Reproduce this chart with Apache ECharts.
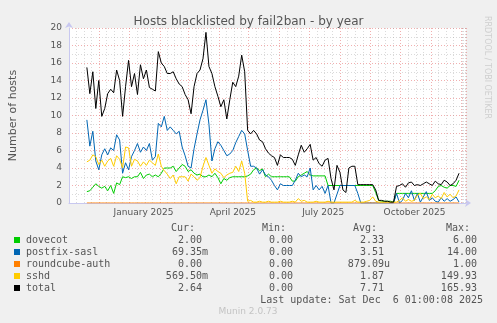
<!DOCTYPE html>
<html>
<head>
<meta charset="utf-8">
<script src="https://cdn.jsdelivr.net/npm/echarts@6/dist/echarts.min.js"></script>
<style>
  html, body { margin: 0; padding: 0; background: #f0f0f0; }
  #main { width: 497px; height: 323px; }
</style>
</head>
<body>
<div id="main"></div>
<script>
// one point every 3 days, first point 2024-11-19
const startDay = [2024, 10, 19]
const stepDays = 3

const dovecot = [1.3, 1.4, 1.8, 2.2, 1.9, 1.7, 1.9, 1.4, 2.0, 1.1, 2.3, 2.1, 3.0, 2.9, 3.0, 2.8, 3.0, 3.0, 3.5, 2.8,
  3.2, 3.3, 3.0, 3.2, 3.0, 3.4, 4.0, 4.0, 4.0, 4.2, 3.6, 4.0, 4.4, 4.2, 3.6, 3.8, 3.4, 3.2, 3.3, 3.0,
  3.0, 3.2, 3.0, 3.4, 2.9, 2.2, 2.8, 2.6, 2.9, 3.0, 3.0, 3.0, 3.0, 3.0, 3.1, 3.3, 3.8, 4.0, 3.7, 3.9,
  3.0, 3.3, 3.0, 3.0, 3.0, 3.0, 3.0, 3.0, 3.0, 2.5, 2.5, 3.0, 3.2, 3.4, 3.6, 3.2, 3.1, 3.1, 3.1, 3.1,
  3.1, 2.0, 2.0, 2.0, 2.0, 2.0, 2.0, 2.0, 2.0, 2.0, 2.0, 2.0, 2.0, 2.0, 2.0, 2.0, 2.0, 1.2, 0.3, 0.2,
  0.2, 0.2, 0.2, 0.1, 1.1, 1.1, 1.1, 1.1, 1.1, 1.1, 1.1, 1.1, 1.1, 1.1, 1.1, 1.1, 1.1, 1.4, 1.9, 2.0,
  1.8, 1.7, 2.0, 2.0, 1.9, 2.6]
const postfixSasl = [9.5, 6.5, 8.2, 4.8, 3.8, 5.5, 6.2, 5.5, 6.3, 6.0, 7.8, 7.2, 3.4, 4.6, 3.8, 5.3, 6.0, 6.8, 5.8, 6.4,
  6.0, 6.8, 4.9, 5.3, 9.1, 8.7, 9.9, 8.3, 8.7, 8.3, 7.9, 8.2, 6.4, 5.4, 4.2, 4.0, 6.2, 7.9, 9.5, 10.6,
  11.8, 9.0, 4.8, 6.2, 7.0, 6.6, 6.0, 5.4, 5.6, 6.0, 6.9, 7.6, 8.3, 7.9, 6.0, 4.2, 4.2, 4.0, 3.3, 3.8,
  3.2, 3.0, 2.6, 2.0, 1.5, 2.2, 2.0, 2.0, 2.0, 2.0, 2.6, 3.4, 3.0, 3.2, 3.0, 4.0, 1.5, 2.0, 1.5, 1.9,
  1.1, 2.0, 0.0, 0.0, 1.0, 2.0, 2.0, 2.0, 2.0, 2.0, 2.0, 1.1, 0.0, 0.0, 0.0, 0.0, 0.0, 0.0, 0.0, 0.0,
  0.0, 0.0, 0.0, 0.0, 1.1, 0.0, 0.3, 1.1, 0.6, 1.4, 0.3, 1.1, 0.1, 0.7, 1.3, 0.3, 0.6, 0.2, 0.1, 0.6,
  0.2, 0.5, 0.2, 0.4, 0.7, 0.1]
const roundcubeAuth = [0, 0, 0, 0, 0, 0, 0, 0, 0, 0, 0, 0, 0, 0, 0, 0, 0, 0, 0, 0,
  0, 0, 0, 0, 0, 0, 0, 0, 0, 0, 0, 0, 0, 0, 0, 0, 0, 0, 0, 0,
  0, 0, 0, 0, 0, 0, 0, 0, 0, 0, 0, 0, 0, 0, 0, 0, 0, 0, 0, 0,
  0, 0, 0, 0, 0, 0, 0, 0, 0, 0, 0, 0, 0, 0, 0, 0, 0, 0, 0, 0,
  0, 0, 0, 0, 0, 0, 0, 0, 0, 0, 0, 0, 0, 0, 0, 0, 0, 0, 0, 0,
  0, 0, 0, 0, 0, 0, 0, 0, 0, 0, 0, 0, 0, 0, 0, 0, 0, 0, 0, 0,
  0, 0, 0, 0, 0, 0]
const sshd = [4.7, 4.9, 5.5, 5.3, 4.4, 4.9, 4.2, 4.8, 5.1, 4.2, 5.4, 5.0, 4.0, 6.4, 6.3, 4.2, 5.0, 4.8, 4.2, 4.7,
  4.3, 4.9, 4.6, 4.3, 5.6, 4.2, 3.7, 3.3, 2.8, 3.2, 2.2, 3.0, 3.0, 3.0, 2.5, 3.3, 3.0, 2.6, 2.9, 4.2,
  5.2, 4.3, 3.4, 3.9, 3.6, 3.4, 2.9, 3.2, 3.4, 3.5, 4.2, 3.6, 4.8, 3.4, 0.2, 0.3, 0.1, 0.1, 0.2, 0.1,
  0.1, 0.2, 0.1, 0.1, 0.1, 0.2, 0.1, 0.1, 0.1, 0.2, 0.1, 0.5, 0.2, 0.3, 0.1, 0.1, 0.1, 0.2, 0.1, 0.1,
  0.1, 0.2, 0.1, 0.1, 0.1, 0.1, 0.1, 0.1, 0.1, 0.1, 0.3, 0.1, 0.1, 0.1, 0.2, 0.3, 0.7, 0.2, 0.1, 0.1,
  0.1, 0.1, 0.1, 0.1, 0.1, 0.3, 0.6, 0.2, 0.4, 0.2, 0.3, 0.9, 1.1, 0.5, 0.7, 0.4, 1.0, 0.6, 0.8, 0.5,
  1.2, 0.7, 1.0, 0.6, 0.8, 1.5]
const total = [15.5, 12.5, 15.0, 10.8, 14.0, 9.9, 10.8, 12.5, 13.0, 12.6, 15.2, 14.0, 9.9, 13.3, 16.3, 13.3, 14.8, 12.4, 15.8, 14.2,
  15.2, 13.2, 13.0, 12.8, 17.3, 16.0, 15.6, 14.8, 14.8, 15.0, 14.2, 13.6, 13.3, 12.4, 11.8, 10.2, 13.3, 14.8, 15.2, 16.5,
  19.5, 15.6, 14.8, 13.3, 12.2, 11.0, 11.8, 9.6, 11.8, 13.8, 13.3, 14.5, 16.9, 15.0, 8.3, 7.9, 8.3, 7.9, 7.2, 7.0,
  6.2, 5.7, 5.4, 5.2, 4.3, 5.5, 5.2, 5.2, 5.2, 5.0, 4.3, 5.5, 6.6, 5.8, 6.2, 6.7, 4.9, 5.2, 4.5, 4.2,
  4.9, 5.1, 2.8, 1.5, 4.3, 3.5, 1.5, 1.2, 4.0, 4.2, 4.2, 2.1, 2.1, 2.1, 2.1, 2.1, 2.1, 1.5, 0.3, 0.3,
  0.2, 0.2, 0.1, 0.1, 1.9, 2.0, 2.2, 1.8, 2.3, 2.4, 2.0, 2.1, 2.0, 2.2, 2.4, 2.2, 2.0, 2.5, 2.2, 2.1,
  2.6, 2.4, 2.0, 2.2, 2.6, 3.4]

const seriesNames = ['dovecot', 'postfix-sasl', 'roundcube-auth', 'sshd', 'total']
const seriesColors = ['#00cc00', '#0066b3', '#ff8000', '#ffcc00', '#000000']
const seriesData = [dovecot, postfixSasl, roundcubeAuth, sshd, total]

// legend table values
const curText = ['2.00', '69.35m', '0.00', '569.50m', '2.64']
const minText = ['0.00', '0.00', '0.00', '0.00', '0.00']
const avgText = ['2.33', '3.51', '879.09u', '1.87', '7.71']
const maxText = ['6.00', '14.00', '1.00', '149.93', '165.93']
const quarterMonths = [0, 3, 6, 9]
const monthNames = ['January', 'February', 'March', 'April', 'May', 'June', 'July', 'August', 'September', 'October', 'November', 'December']

function withTime(values) {
    return values.map((v, i) => [new Date(startDay[0], startDay[1], startDay[2] + i * stepDays).getTime(), v])
}

const chart = echarts.init(document.getElementById('main'))

// legend rows drawn as text
const mono = '10px "DejaVu Sans Mono"'
const graphics = []
const colRight = [202, 293, 384, 477]
function pad(s) {
    // rrdtool leaves one char for the unit suffix
    return /[0-9]$/.test(s) ? s + ' ' : s
}
const headers = ['Cur:', 'Min:', 'Avg:', 'Max:']
headers.forEach((h, i) => {
    graphics.push({ type: 'text', x: colRight[i] - 7, y: 228, style: { text: h, font: mono, fill: '#555', align: 'right', verticalAlign: 'middle' } })
})
seriesNames.forEach((name, i) => {
    const y = 240 + i * 12
    graphics.push({ type: 'rect', shape: { x: 14, y: y - 3, width: 6, height: 6 }, style: { fill: seriesColors[i] } })
    graphics.push({ type: 'text', x: 26, y: y, style: { text: name, font: mono, fill: '#555', verticalAlign: 'middle' } })
    const cols = [curText[i], minText[i], avgText[i], maxText[i]]
    cols.forEach((t, c) => {
        graphics.push({ type: 'text', x: colRight[c] + 6, y: y, style: { text: pad(t), font: mono, fill: '#555', align: 'right', verticalAlign: 'middle' } })
    })
})
graphics.push({ type: 'text', x: 483, y: 300, style: { text: 'Last update: Sat Dec  6 01:00:08 2025', font: mono, fill: '#555', align: 'right', verticalAlign: 'middle' } })
graphics.push({ type: 'text', x: 248, y: 312, style: { text: 'Munin 2.0.73', font: '9px "DejaVu Sans"', fill: '#c4c4c4', align: 'center', verticalAlign: 'middle' } })
graphics.push({ type: 'text', x: 487, y: 16, rotation: -Math.PI / 2, style: { text: 'RRDTOOL / TOBI OETIKER', font: '8px "DejaVu Sans"', fill: '#cfcfcf', align: 'left', verticalAlign: 'middle' } })

const option = {
    backgroundColor: '#f0f0f0',
    animation: false,
    title: {
        text: 'Hosts blacklisted by fail2ban - by year',
        left: 'center',
        top: 11,
        textStyle: { fontFamily: 'DejaVu Sans', fontSize: 12, fontWeight: 'normal', color: '#555' }
    },
    grid: { left: 67, right: 31, top: 28, bottom: 120, show: true, backgroundColor: '#fff', borderWidth: 0 },
    xAxis: {
        type: 'time',
        min: new Date(2024, 10, 1).getTime(),
        max: new Date(2025, 11, 6).getTime(),
        minInterval: 28 * 864e5,
        maxInterval: 31 * 864e5,
        axisLine: { show: true, lineStyle: { color: '#c8c8f0' }, symbol: ['none', 'arrow'], symbolSize: [6, 6], symbolOffset: [0, 5] },
        axisTick: { show: false },
        axisLabel: {
            fontFamily: 'DejaVu Sans', fontSize: 9, color: '#555', margin: 5,
            padding: [0, 0, 0, 28], hideOverlap: false, showMinLabel: false, showMaxLabel: false,
            formatter: function (value) {
                const d = new Date(value)
                return quarterMonths.includes(d.getMonth()) && d.getDate() === 1 ? monthNames[d.getMonth()] + ' ' + d.getFullYear() : ''
            }
        },
        splitLine: { show: true, lineStyle: { color: 'rgba(230,110,110,0.55)', type: [1, 2] } },
        minorTick: { show: false, splitNumber: 4 },
        minorSplitLine: { show: true, lineStyle: { color: 'rgba(150,150,150,0.35)', type: [1, 2] } }
    },
    yAxis: {
        type: 'value',
        min: 0,
        max: 20,
        interval: 2,
        name: 'Number of hosts',
        nameLocation: 'middle',
        nameGap: 50,
        nameTextStyle: { fontFamily: 'DejaVu Sans', fontSize: 11, color: '#555' },
        axisLine: { show: true, lineStyle: { color: '#c8c8f0' }, symbol: ['none', 'arrow'], symbolSize: [6, 6], symbolOffset: [0, 6] },
        axisTick: { show: false },
        axisLabel: { fontFamily: 'DejaVu Sans', fontSize: 9, color: '#555', margin: 7 },
        splitLine: { show: true, lineStyle: { color: 'rgba(230,110,110,0.55)', type: [1, 2] } },
        minorTick: { show: false, splitNumber: 2 },
        minorSplitLine: { show: true, lineStyle: { color: 'rgba(150,150,150,0.35)', type: [1, 2] } }
    },
    series: seriesNames.map((name, i) => ({
        name: name,
        type: 'line',
        data: withTime(seriesData[i]),
        showSymbol: false,
        lineStyle: { width: 1, color: seriesColors[i] },
        itemStyle: { color: seriesColors[i] }
    })),
    graphic: graphics
}

chart.setOption(option)
</script>
</body>
</html>
